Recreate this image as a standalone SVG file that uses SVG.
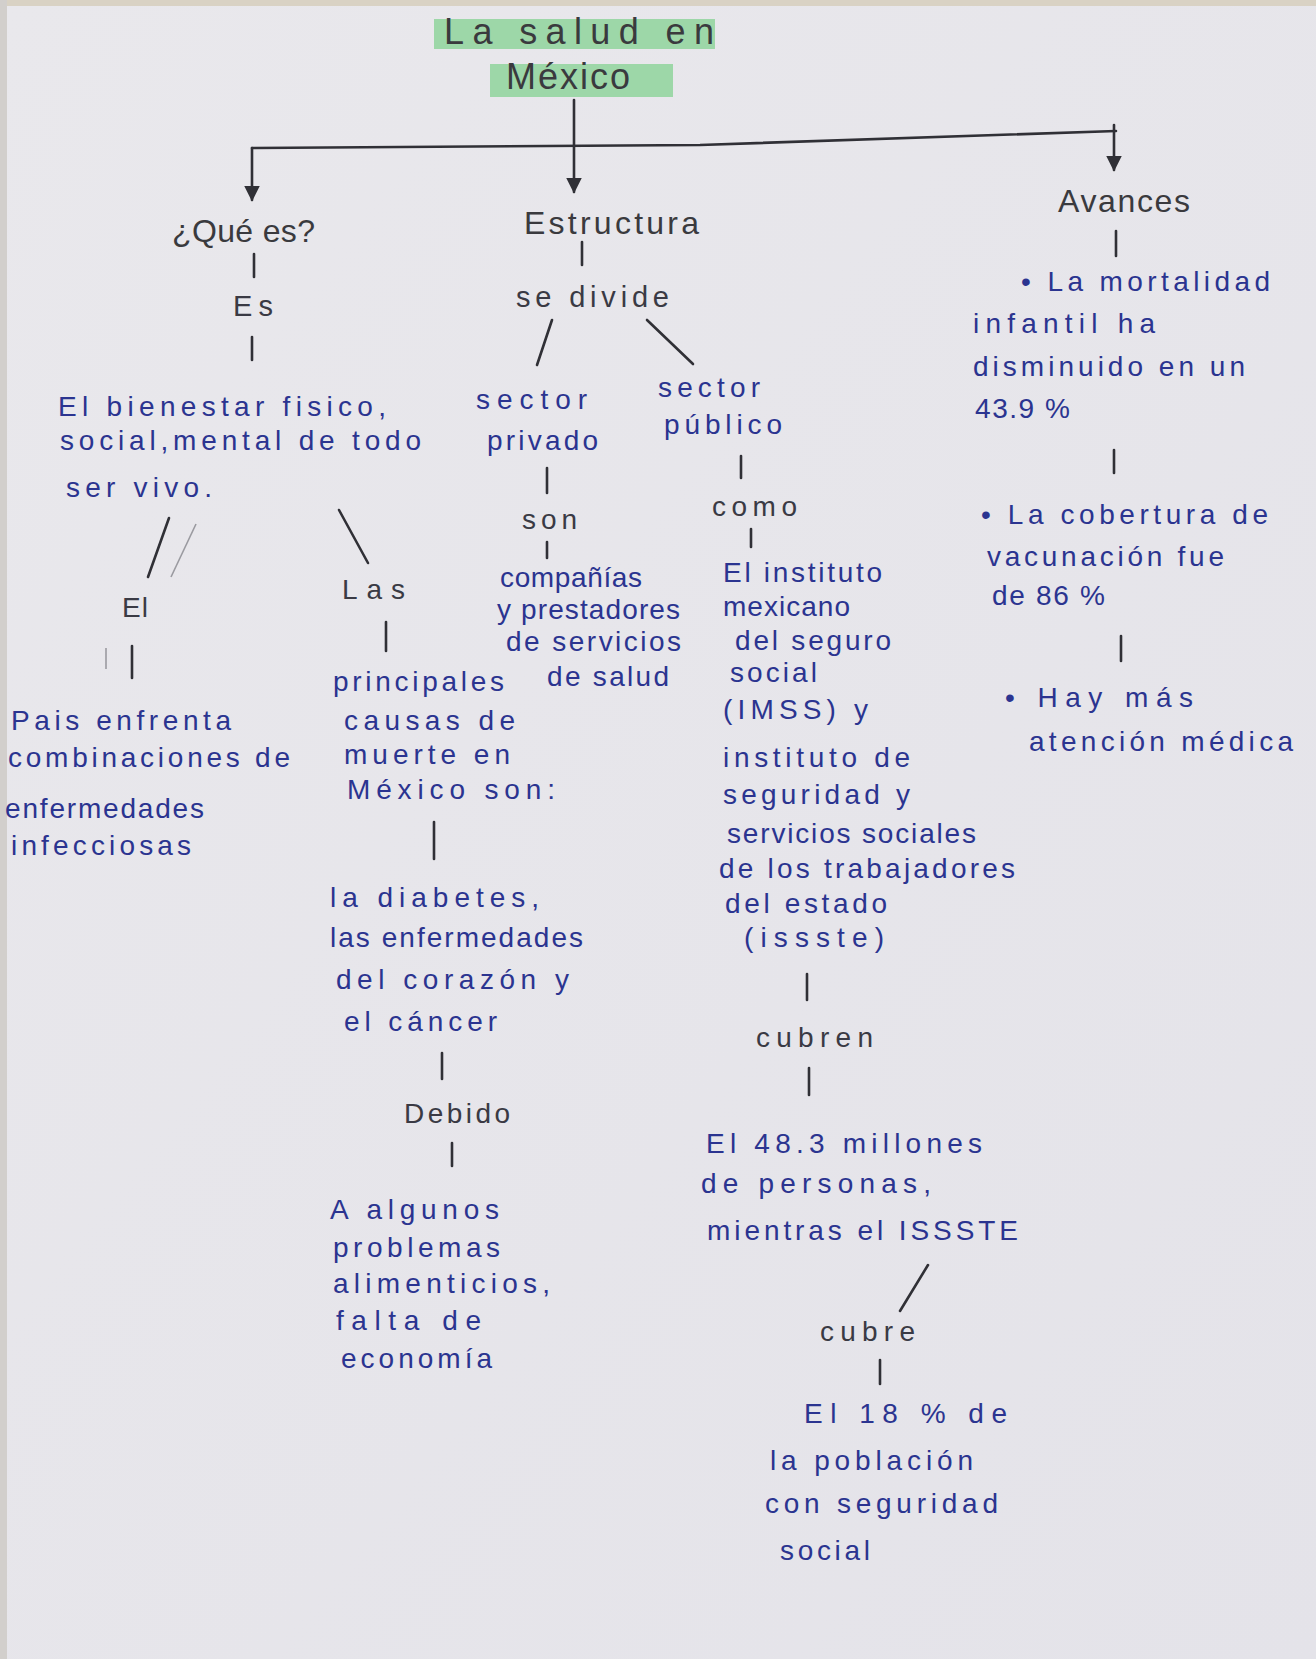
<svg xmlns="http://www.w3.org/2000/svg" width="1316" height="1659" viewBox="0 0 1316 1659">
<defs>
<style>
text{font-family:"Liberation Sans","DejaVu Sans",sans-serif;font-size:28px;fill:#2b3490;}
.k{fill:#3a3a44;}
.t{font-size:36px;fill:#3a3a3e;}
.h{font-size:32px;fill:#3a3a3e;}
.c{stroke:#303036;stroke-width:2.6;fill:none;stroke-linecap:round;}
.f{stroke:#9a9aa0;stroke-width:1.6;fill:none;}
.hl{fill:#8fd49c;opacity:0.85;}
</style>
<marker id="ah" viewBox="0 0 10 10" refX="9" refY="5" markerWidth="6" markerHeight="6" orient="auto" markerUnits="strokeWidth">
<path d="M0,0 L10,5 L0,10 z" fill="#303036"/>
</marker>
<linearGradient id="paper" x1="0" y1="0" x2="1" y2="1">
<stop offset="0" stop-color="#e9e8ec"/>
<stop offset="1" stop-color="#e4e3e9"/>
</linearGradient>
</defs>
<rect x="0" y="0" width="1316" height="1659" fill="url(#paper)"/>
<rect x="0" y="0" width="1316" height="6" fill="#d9d2c4"/>
<rect x="0" y="0" width="7" height="1659" fill="#d2cfcc"/>

<g id="n-title">
<rect class="hl" x="434" y="19" width="281" height="30"/>
<rect class="hl" x="490" y="64" width="183" height="33"/>
<text class="t" x="444" y="44" textLength="270" lengthAdjust="spacing">La salud en</text>
<text class="t" x="506" y="89" textLength="124" lengthAdjust="spacing">México</text>
</g>

<g id="connectors">
<line class="c" x1="574" y1="100" x2="574" y2="192" marker-end="url(#ah)"/>
<polyline class="c" points="252,148 700,145 1116,131"/>
<line class="c" x1="252" y1="148" x2="252" y2="200" marker-end="url(#ah)"/>
<line class="c" x1="1114" y1="125" x2="1114" y2="170" marker-end="url(#ah)"/>
<line class="c" x1="254" y1="254" x2="254" y2="277"/>
<line class="c" x1="252" y1="337" x2="252" y2="360"/>
<line class="c" x1="169" y1="518" x2="148" y2="577"/>
<line class="f" x1="196" y1="524" x2="171" y2="577"/>
<line class="c" x1="339" y1="510" x2="368" y2="563"/>
<line class="c" x1="386" y1="622" x2="386" y2="651"/>
<line class="c" x1="132" y1="646" x2="132" y2="678"/>
<line class="f" x1="106" y1="648" x2="106" y2="669"/>
<line class="c" x1="434" y1="822" x2="434" y2="859"/>
<line class="c" x1="442" y1="1053" x2="442" y2="1079"/>
<line class="c" x1="452" y1="1143" x2="452" y2="1166"/>
<line class="c" x1="582" y1="242" x2="582" y2="265"/>
<line class="c" x1="552" y1="320" x2="537" y2="365"/>
<line class="c" x1="647" y1="320" x2="693" y2="364"/>
<line class="c" x1="547" y1="468" x2="547" y2="493"/>
<line class="c" x1="547" y1="542" x2="547" y2="558"/>
<line class="c" x1="741" y1="456" x2="741" y2="478"/>
<line class="c" x1="751" y1="529" x2="751" y2="547"/>
<line class="c" x1="807" y1="974" x2="807" y2="1000"/>
<line class="c" x1="809" y1="1068" x2="809" y2="1095"/>
<line class="c" x1="928" y1="1265" x2="900" y2="1311"/>
<line class="c" x1="880" y1="1360" x2="880" y2="1384"/>
<line class="c" x1="1116" y1="231" x2="1116" y2="256"/>
<line class="c" x1="1114" y1="450" x2="1114" y2="473"/>
<line class="c" x1="1121" y1="636" x2="1121" y2="661"/>
</g>

<g id="n-que-es"><text class="h" x="172" y="242" textLength="143" lengthAdjust="spacing">¿Qué es?</text></g>
<g id="n-es"><text class="k" x="233" y="316" textLength="40" lengthAdjust="spacing" style="font-size:29px">Es</text></g>
<g id="n-bienestar">
<text x="58" y="416" textLength="328" lengthAdjust="spacing">El bienestar fisico,</text>
<text x="60" y="450" textLength="361" lengthAdjust="spacing">social,mental de todo</text>
<text x="66" y="497" textLength="146" lengthAdjust="spacing">ser vivo.</text>
</g>
<g id="n-el"><text class="k" x="122" y="617" textLength="26" lengthAdjust="spacing">El</text></g>
<g id="n-las"><text class="k" x="342" y="599" textLength="63" lengthAdjust="spacing">Las</text></g>
<g id="n-pais">
<text x="11" y="730" textLength="220" lengthAdjust="spacing">Pais enfrenta</text>
<text x="8" y="767" textLength="282" lengthAdjust="spacing">combinaciones de</text>
<text x="5" y="818" textLength="199" lengthAdjust="spacing">enfermedades</text>
<text x="11" y="855" textLength="180" lengthAdjust="spacing">infecciosas</text>
</g>
<g id="n-principales">
<text x="333" y="691" textLength="171" lengthAdjust="spacing">principales</text>
<text x="344" y="730" textLength="171" lengthAdjust="spacing">causas de</text>
<text x="344" y="764" textLength="166" lengthAdjust="spacing">muerte en</text>
<text x="347" y="799" textLength="208" lengthAdjust="spacing">México son:</text>
</g>
<g id="n-diabetes">
<text x="330" y="907" textLength="209" lengthAdjust="spacing">la diabetes,</text>
<text x="330" y="947" textLength="253" lengthAdjust="spacing">las enfermedades</text>
<text x="336" y="989" textLength="233" lengthAdjust="spacing">del corazón y</text>
<text x="344" y="1031" textLength="153" lengthAdjust="spacing">el cáncer</text>
</g>
<g id="n-debido"><text class="k" x="404" y="1123" textLength="106" lengthAdjust="spacing">Debido</text></g>
<g id="n-algunos">
<text x="330" y="1219" textLength="169" lengthAdjust="spacing">A algunos</text>
<text x="333" y="1257" textLength="167" lengthAdjust="spacing">problemas</text>
<text x="333" y="1293" textLength="217" lengthAdjust="spacing">alimenticios,</text>
<text x="336" y="1330" textLength="145" lengthAdjust="spacing">falta de</text>
<text x="341" y="1368" textLength="151" lengthAdjust="spacing">economía</text>
</g>

<g id="n-estructura"><text class="h" x="524" y="234" textLength="175" lengthAdjust="spacing">Estructura</text></g>
<g id="n-se-divide"><text class="k" x="516" y="307" textLength="153" lengthAdjust="spacing" style="font-size:29px">se divide</text></g>
<g id="n-privado">
<text x="476" y="409" textLength="111" lengthAdjust="spacing">sector</text>
<text x="487" y="450" textLength="111" lengthAdjust="spacing">privado</text>
</g>
<g id="n-son"><text class="k" x="522" y="529" textLength="55" lengthAdjust="spacing">son</text></g>
<g id="n-companias">
<text x="500" y="587" textLength="142" lengthAdjust="spacing">compañías</text>
<text x="497" y="619" textLength="183" lengthAdjust="spacing">y prestadores</text>
<text x="506" y="651" textLength="175" lengthAdjust="spacing">de servicios</text>
<text x="547" y="686" textLength="122" lengthAdjust="spacing">de salud</text>
</g>
<g id="n-publico">
<text x="658" y="397" textLength="102" lengthAdjust="spacing">sector</text>
<text x="664" y="434" textLength="118" lengthAdjust="spacing">público</text>
</g>
<g id="n-como"><text class="k" x="712" y="516" textLength="85" lengthAdjust="spacing">como</text></g>
<g id="n-institutos">
<text x="723" y="582" textLength="159" lengthAdjust="spacing">El instituto</text>
<text x="723" y="616" textLength="127" lengthAdjust="spacing">mexicano</text>
<text x="735" y="650" textLength="156" lengthAdjust="spacing">del seguro</text>
<text x="730" y="682" textLength="87" lengthAdjust="spacing">social</text>
<text x="723" y="719" textLength="145" lengthAdjust="spacing">(IMSS) y</text>
<text x="723" y="767" textLength="187" lengthAdjust="spacing">instituto de</text>
<text x="723" y="804" textLength="187" lengthAdjust="spacing">seguridad y</text>
<text x="727" y="843" textLength="249" lengthAdjust="spacing">servicios sociales</text>
<text x="719" y="878" textLength="296" lengthAdjust="spacing">de los trabajadores</text>
<text x="725" y="913" textLength="162" lengthAdjust="spacing">del estado</text>
<text x="744" y="947" textLength="140" lengthAdjust="spacing">(issste)</text>
</g>
<g id="n-cubren"><text class="k" x="756" y="1047" textLength="117" lengthAdjust="spacing">cubren</text></g>
<g id="n-millones">
<text x="706" y="1153" textLength="276" lengthAdjust="spacing">El 48.3 millones</text>
<text x="701" y="1193" textLength="230" lengthAdjust="spacing">de personas,</text>
<text x="707" y="1240" textLength="311" lengthAdjust="spacing">mientras el ISSSTE</text>
</g>
<g id="n-cubre"><text class="k" x="820" y="1341" textLength="95" lengthAdjust="spacing">cubre</text></g>
<g id="n-poblacion">
<text x="804" y="1423" textLength="203" lengthAdjust="spacing">El 18 % de</text>
<text x="770" y="1470" textLength="203" lengthAdjust="spacing">la población</text>
<text x="765" y="1513" textLength="233" lengthAdjust="spacing">con seguridad</text>
<text x="780" y="1560" textLength="90" lengthAdjust="spacing">social</text>
</g>

<g id="n-avances"><text class="h" x="1058" y="212" textLength="132" lengthAdjust="spacing">Avances</text></g>
<g id="n-mortalidad">
<text x="1021" y="291" textLength="249" lengthAdjust="spacing">• La mortalidad</text>
<text x="973" y="333" textLength="182" lengthAdjust="spacing">infantil ha</text>
<text x="973" y="376" textLength="272" lengthAdjust="spacing">disminuido en un</text>
<text x="975" y="418" textLength="95" lengthAdjust="spacing">43.9 %</text>
</g>
<g id="n-vacunacion">
<text x="981" y="524" textLength="287" lengthAdjust="spacing">• La cobertura de</text>
<text x="987" y="566" textLength="237" lengthAdjust="spacing">vacunación fue</text>
<text x="992" y="605" textLength="113" lengthAdjust="spacing">de 86 %</text>
</g>
<g id="n-atencion">
<text x="1005" y="707" textLength="188" lengthAdjust="spacing">• Hay más</text>
<text x="1029" y="751" textLength="264" lengthAdjust="spacing">atención médica</text>
</g>
</svg>
